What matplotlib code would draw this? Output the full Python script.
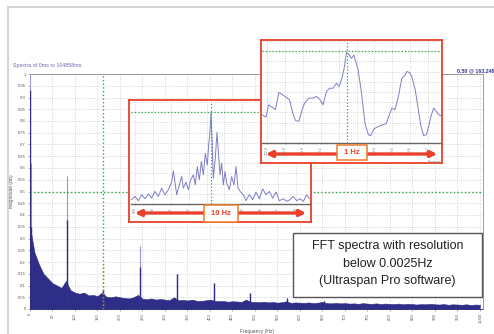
import numpy as np
import matplotlib.pyplot as plt
from matplotlib.patches import Rectangle, FancyArrowPatch

# ---- data ----
base_step = 10
base_level = [
    0.35, 0.24, 0.19, 0.15, 0.13, 0.11, 0.10, 0.09, 0.12, 0.08,
    0.07, 0.065, 0.07, 0.058, 0.06, 0.055, 0.07, 0.052, 0.05, 0.054,
    0.05, 0.047, 0.045, 0.05, 0.06, 0.044, 0.042, 0.045, 0.04, 0.043,
    0.04, 0.038, 0.05, 0.037, 0.039, 0.036, 0.04, 0.035, 0.034, 0.037,
    0.04, 0.035, 0.033, 0.034, 0.031, 0.033, 0.032, 0.03, 0.04, 0.031,
    0.03, 0.029, 0.031, 0.028, 0.03, 0.027, 0.029, 0.033, 0.026, 0.028,
    0.027, 0.026, 0.028, 0.025, 0.027, 0.03, 0.025, 0.024, 0.026, 0.024,
    0.025, 0.023, 0.024, 0.022, 0.025, 0.023, 0.022, 0.024, 0.021, 0.023,
    0.022, 0.021, 0.023, 0.02, 0.022, 0.021, 0.019, 0.021, 0.02, 0.022,
    0.02, 0.019, 0.021, 0.018, 0.02, 0.019, 0.018, 0.02, 0.017, 0.019,
    0.018,
]
freq_base = np.arange(len(base_level)) * base_step

peak_freq = [1.0, 3.0, 81.6, 163.25, 244.8, 326.4, 408.0, 489.6, 571.2, 653.0]
peak_dark = [0.93, 0.35, 0.38, 0.08, 0.18, 0.15, 0.11, 0.07, 0.045, 0.035]
peak_light = [1.0, 0.62, 0.566, 0.08, 0.27, 0.15, 0.11, 0.07, 0.045, 0.035]

marker_freq = 163.248
marker_level = 0.5

# 10 Hz zoom
z1_freq = [158.816, 159.002, 159.189, 159.375, 159.561, 159.747, 159.934, 160.120,
           160.306, 160.492, 160.678, 160.865, 161.051, 161.144, 161.237, 161.330,
           161.479, 161.610, 161.703, 161.852, 161.982, 162.112, 162.261, 162.373,
           162.485, 162.597, 162.708, 162.820, 162.932, 163.043, 163.118, 163.192,
           163.248, 163.304, 163.379, 163.472, 163.584, 163.658, 163.751, 163.844,
           163.937, 164.030, 164.124, 164.273, 164.403, 164.533, 164.645, 164.757,
           164.906, 165.055, 165.204, 165.390, 165.576, 165.762, 165.949, 166.135,
           166.321, 166.507, 166.693, 166.880, 167.066, 167.289, 167.476, 167.662,
           167.848, 168.034, 168.220, 168.407, 168.593, 168.742]
z1_mag = [0.042, 0.075, 0.032, 0.091, 0.052, 0.097, 0.058, 0.123, 0.075, 0.156,
          0.091, 0.140, 0.214, 0.325, 0.214, 0.091, 0.188, 0.269, 0.156, 0.214,
          0.140, 0.237, 0.286, 0.188, 0.367, 0.237, 0.416, 0.286, 0.497, 0.383,
          0.578, 0.708, 0.900, 0.643, 0.253, 0.416, 0.701, 0.513, 0.286, 0.399,
          0.188, 0.318, 0.205, 0.140, 0.269, 0.188, 0.367, 0.156, 0.117, 0.091,
          0.032, 0.091, 0.042, 0.117, 0.052, 0.149, 0.091, 0.123, 0.058, 0.117,
          0.032, 0.052, 0.026, 0.042, 0.075, 0.032, 0.052, 0.026, 0.091, 0.052]

# 1 Hz zoom
z2_freq = [162.772, 162.794, 162.809, 162.836, 162.847, 162.866, 162.888, 162.926,
           162.944, 162.959, 162.978, 162.997, 163.010, 163.034, 163.057, 163.075,
           163.094, 163.113, 163.132, 163.150, 163.169, 163.188, 163.203, 163.216,
           163.231, 163.244, 163.259, 163.272, 163.285, 163.296, 163.309, 163.328,
           163.347, 163.366, 163.379, 163.397, 163.422, 163.446, 163.465, 163.484,
           163.497, 163.515, 163.534, 163.553, 163.566, 163.581, 163.596, 163.609,
           163.628, 163.647, 163.660, 163.675, 163.690, 163.703, 163.716, 163.731,
           163.746, 163.759, 163.772]
z2_mag = [0.277, 0.254, 0.375, 0.342, 0.326, 0.495, 0.472, 0.423, 0.293, 0.221,
          0.212, 0.332, 0.391, 0.440, 0.440, 0.456, 0.430, 0.375, 0.505, 0.537,
          0.537, 0.586, 0.554, 0.619, 0.733, 0.886, 0.863, 0.831, 0.863, 0.798,
          0.717, 0.489, 0.195, 0.081, 0.072, 0.137, 0.163, 0.179, 0.189, 0.277,
          0.342, 0.326, 0.456, 0.635, 0.651, 0.700, 0.691, 0.651, 0.521, 0.309,
          0.163, 0.072, 0.081, 0.163, 0.261, 0.342, 0.309, 0.277, 0.267]

NAVY = "#2e2d88"
LIGHT = "#9a98d0"
LINE = "#7f7dc6"
GREEN = "#2aa84a"
RED = "#e8402a"
GRIDC = "#c9c9c9"

W, H = 494, 334
plt.rcParams["font.family"] = ["Liberation Sans", "DejaVu Sans"]
fig = plt.figure(figsize=(W / 100, H / 100), dpi=100)


def box(x0, y0, x1, y1):
    # pixel box (top-left origin) -> figure fraction
    return [x0 / W, 1 - y1 / H, (x1 - x0) / W, (y1 - y0) / H]


# outer light frame
fig.patches.append(Rectangle((8 / W, -0.1), 1.1, 1.1 - 7 / H, transform=fig.transFigure,
                             fill=False, ec="#d6d6d6", lw=1.5, zorder=0))

# ---- main spectrum ----
ax = fig.add_axes(box(30, 74, 483, 309))
ax.set_xlim(0, 1007)
ax.set_ylim(0, 1)
ax.fill_between(freq_base, base_level, color=NAVY, lw=0.4, ec=NAVY, zorder=3)
ax.vlines(peak_freq, 0, peak_light, color=LIGHT, lw=0.8, zorder=3)
ax.vlines(peak_freq, 0, peak_dark, color=NAVY, lw=1.0, zorder=4)
ax.axvline(marker_freq, color=GREEN, ls=":", lw=1, zorder=5)
ax.vlines(marker_freq, 0, 0.2, color="#e07020", ls=":", lw=1, zorder=6)
ax.axhline(marker_level, color=GREEN, ls=":", lw=1, zorder=5)

xt = np.arange(0, 1001, 50)
ax.set_xticks(xt)
ax.set_xticklabels([f"{v:,}" for v in xt], rotation=90, fontsize=3, color="#555555")
yt = np.arange(0, 1.001, 0.05)
ax.set_yticks(yt)
ax.set_yticklabels([f"{v:g}" for v in np.round(yt, 2)], fontsize=3, color="#555555")
ax.tick_params(length=1.5, width=0.5, color="#888888", pad=1.5)
ax.grid(True, color=GRIDC, ls=":", lw=0.6)
for s in ax.spines.values():
    s.set_color("#9a9a9a")
    s.set_linewidth(0.7)
ax.spines["left"].set_color("#555555")
ax.spines["bottom"].set_color("#555555")
ax.set_xlabel("Frequency (Hz)", fontsize=3.5, color="#555555", labelpad=4)
ax.set_ylabel("Magnitude (dB)", fontsize=3.5, color="#555555", labelpad=3)

fig.text(13 / W, 1 - 67 / H, "Spectra of 0ms to 104858ms", fontsize=3.8, color="#6a68b0")
# runs off the right edge, as in the reference
fig.text(457 / W, 1 - 72 / H, "0.50 @ 163.2480Hz", fontsize=3.8, color="#34338a",
         fontweight="bold")


def zoom_panel(frame_px, plot_px, fx, fy, xlo, xhi, xticks, xlabels, ylev, arrow_y,
               lbl_px, lbl):
    fr = fig.add_axes(box(*frame_px))
    fr.set_xticks([])
    fr.set_yticks([])
    fr.set_facecolor("white")
    for s in fr.spines.values():
        s.set_color(RED)
        s.set_linewidth(1.3)
    p = fig.add_axes(box(*plot_px))
    p.set_xlim(xlo, xhi)
    p.set_ylim(0, 1)
    p.plot(fx, fy, color=LINE, lw=0.7)
    p.axvline(marker_freq, color=GREEN, ls=":", lw=0.9)
    p.axhline(ylev, color=GREEN, ls=":", lw=0.9)
    p.set_xticks(xticks)
    p.set_xticklabels(xlabels, rotation=90, fontsize=2.5, color="#777777")
    p.set_yticks(np.arange(0, 1.01, 0.1))
    p.set_yticklabels([])
    p.tick_params(length=1, width=0.4, pad=1, color="#888888")
    p.tick_params(axis="y", length=0)
    p.grid(True, color=GRIDC, ls=":", lw=0.6)
    for k in ("top", "left", "right"):
        p.spines[k].set_visible(False)
    p.spines["bottom"].set_color("#666666")
    p.spines["bottom"].set_linewidth(1)
    # double arrow across the span
    x0, x1 = plot_px[0] + 1, plot_px[2] - 1
    fig.add_artist(FancyArrowPatch(
        (x0 / W, 1 - arrow_y / H), (x1 / W, 1 - arrow_y / H),
        transform=fig.transFigure, arrowstyle="<|-|>", mutation_scale=9,
        color=RED, lw=2.4, zorder=5))
    lx0, ly0, lx1, ly1 = lbl_px
    fig.add_artist(Rectangle((lx0 / W, 1 - ly1 / H), (lx1 - lx0) / W, (ly1 - ly0) / H,
                             transform=fig.transFigure, fc="white", ec="#f07a28",
                             lw=1.1, zorder=6))
    fig.text((lx0 + lx1) / 2 / W, 1 - (ly0 + ly1) / 2 / H, lbl, ha="center", va="center",
             fontsize=5.5, fontweight="bold", color=RED, zorder=7)
    return p


z1_ticks = [159, 160, 161, 162, 163, 164, 165, 166, 167, 168]
z1_labels = ["159", "160", "161", "162", "", "", "165", "166", "167", "168"]
zoom_panel((129, 100, 311, 222), (131, 102, 310, 204), z1_freq, z1_mag,
           158.779, 168.779, z1_ticks, z1_labels, 0.906, 213,
           (204, 205, 238, 222), "10 Hz")

z2_ticks = [162.8, 162.9, 163.0, 163.1, 163.2, 163.3, 163.4, 163.5, 163.6, 163.7]
z2_labels = ["162.8", "162.9", "163.0", "163.1", "", "", "163.4", "163.5", "163.6", "163.7"]
z2 = zoom_panel((261, 40, 442, 163), (262, 41, 441, 143), z2_freq, z2_mag,
                162.772, 163.772, z2_ticks, z2_labels, 0.9, 154,
                (337, 145, 367, 160), "1 Hz")
z2.text(1.0, -0.2, "Frequen", transform=z2.transAxes, fontsize=2.5, color="#777777",
        ha="right")

# annotation box
fig.add_artist(Rectangle((293 / W, 1 - 297 / H), (482 - 293) / W, (297 - 233) / H,
                         transform=fig.transFigure, fc="white", ec="#555555", lw=1,
                         zorder=5))
note = ["FFT spectra with resolution", "below 0.0025Hz", "(Ultraspan Pro software)"]
for i, line in enumerate(note):
    fig.text(387.5 / W, 1 - (246 + 17.7 * i) / H, line, ha="center", va="center",
             fontsize=9, color="#222222", zorder=6)

fig.savefig("out.png", dpi=100)
